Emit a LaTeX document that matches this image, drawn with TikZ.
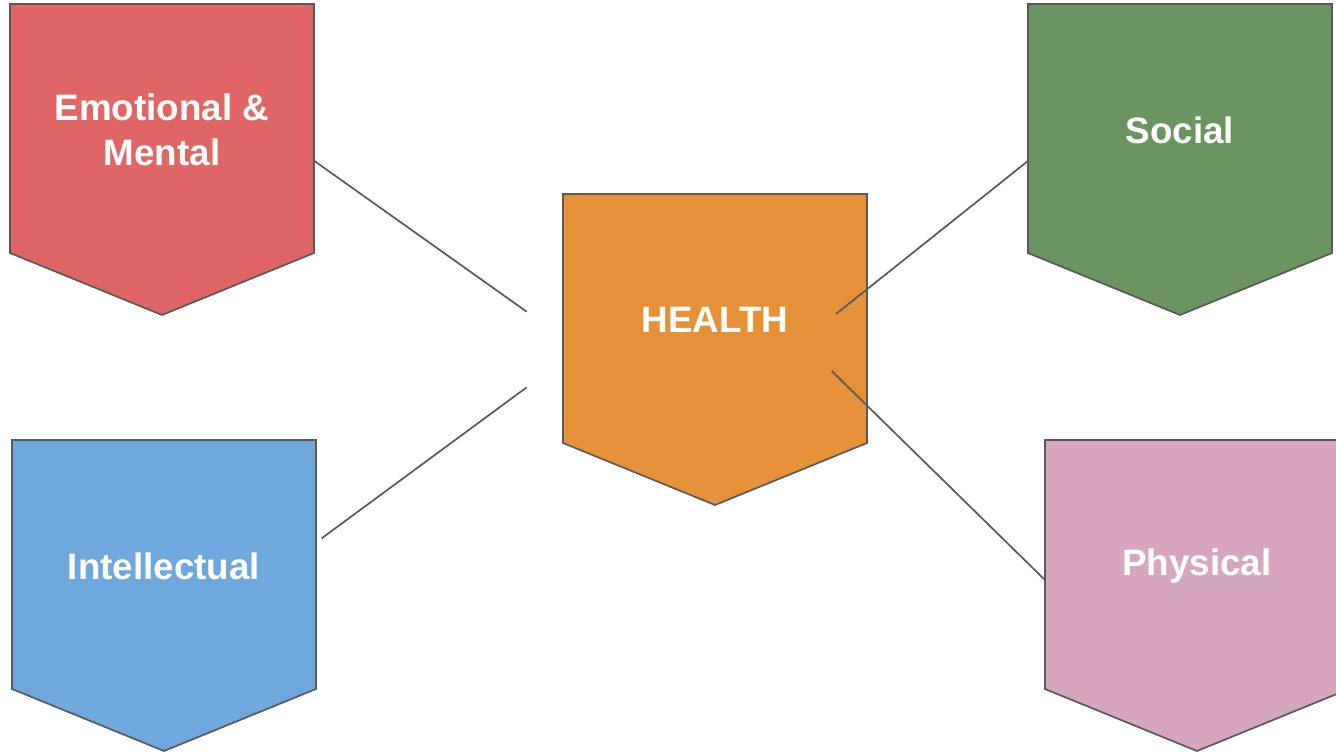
\documentclass[tikz,border=0pt]{standalone}
\usepackage{fontspec}
\setmainfont{Liberation Sans}
\definecolor{cred}{HTML}{E06666}
\definecolor{cblue}{HTML}{6FA8DC}
\definecolor{corange}{HTML}{E69138}
\definecolor{cgreen}{HTML}{6A9560}
\definecolor{cpink}{HTML}{D5A6BD}
\definecolor{cline}{HTML}{595959}
\tikzset{
  shapeline/.style={draw=cline, line width=1.7pt, line join=miter},
  chevtext/.style={text=white, font=\fontsize{36.8}{45}\selectfont\bfseries, align=center, inner sep=0pt},
  conn/.style={draw=cline, line width=1.7pt}
}
\newcommand\Chev[5]{%
  \draw[shapeline, fill=#4] (#2,#3) -- ++(304,0) -- ++(0,249) -- ++(-152,62) -- ++(-152,-62) -- cycle;
  \node[chevtext] (#1) at (#2+152,#3+126) {#5};%
}
\begin{document}
\begin{tikzpicture}[x=1pt,y=-1pt]
\useasboundingbox (0,0) rectangle (1336,753);
\clip (0,0) rectangle (1336,753);
\fill[white] (0,0) rectangle (1336,753);
\Chev{emo}{10}{4}{cred}{Emotional \&\\Mental}
\Chev{int}{12}{440}{cblue}{Intellectual}
\Chev{health}{563}{194}{corange}{HEALTH}
\Chev{soc}{1028}{4}{cgreen}{Social}
\Chev{phy}{1045}{440}{cpink}{Physical}
\coordinate (e1) at (314,160.7);
\coordinate (e2) at (526.7,311.7);
\coordinate (i1) at (321.7,538.3);
\coordinate (i2) at (526.7,387.3);
\coordinate (s1) at (836,314);
\coordinate (s2) at (1028.3,160.7);
\coordinate (p1) at (831.7,371);
\coordinate (p2) at (1045,580);
\draw[conn] (e1) -- (e2);
\draw[conn] (i1) -- (i2);
\draw[conn] (s1) -- (s2);
\draw[conn] (p1) -- (p2);
\end{tikzpicture}
\end{document}
